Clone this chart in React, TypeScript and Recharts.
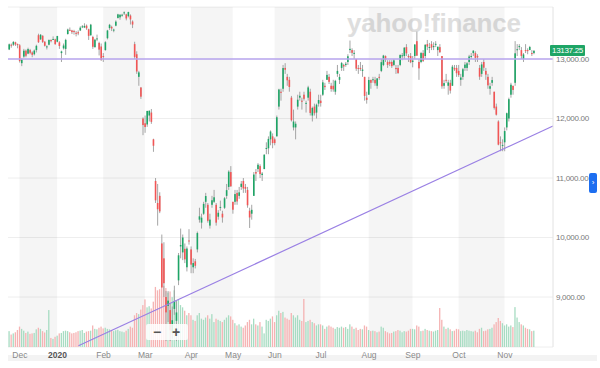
import { ComposedChart, Bar, XAxis, YAxis, CartesianGrid, ReferenceArea, ReferenceLine } from 'recharts'

type Ohlc = [number, number, number, number]

// daily candles, [open, high, low, close], one array per month
const nov19: Ohlc[] = [
  [13160, 13260, 13150, 13247], [13240, 13260, 13190, 13236], [13240, 13300, 13220, 13287], [13280, 13290, 13220, 13245],
  [13250, 13260, 13180, 13236],
]
const dec19: Ohlc[] = [
  [13230, 13250, 12940, 12965], [12930, 13010, 12880, 12989], [13040, 13170, 13020, 13140], [13140, 13160, 13030, 13055],
  [13090, 13190, 13080, 13167], [13150, 13170, 13080, 13105], [13110, 13130, 13030, 13071], [13080, 13160, 13060, 13142],
  [13150, 13240, 13110, 13221], [13400, 13425, 13270, 13282], [13330, 13420, 13320, 13407], [13390, 13400, 13270, 13287],
  [13290, 13300, 13210, 13222], [13200, 13230, 13160, 13212], [13240, 13330, 13230, 13319], [13320, 13330, 13280, 13300],
  [13330, 13380, 13320, 13337], [13330, 13340, 13240, 13249],
]
const jan20: Ohlc[] = [
  [13290, 13390, 13280, 13386], [13280, 13300, 13170, 13219], [13100, 13140, 12950, 13127], [13180, 13260, 13160, 13227],
  [13170, 13340, 13070, 13321], [13420, 13510, 13410, 13495], [13490, 13530, 13470, 13483], [13480, 13490, 13420, 13452],
  [13470, 13490, 13410, 13456], [13440, 13470, 13380, 13432], [13450, 13480, 13400, 13430], [13480, 13550, 13470, 13526],
  [13540, 13570, 13520, 13549], [13530, 13600, 13520, 13556], [13560, 13580, 13490, 13516], [13500, 13510, 13320, 13389],
  [13400, 13590, 13390, 13577], [13370, 13390, 13170, 13205], [13200, 13340, 13190, 13324], [13330, 13410, 13300, 13346],
  [13270, 13290, 13060, 13158], [13210, 13260, 12970, 12982],
]
const feb20: Ohlc[] = [
  [13050, 13100, 12950, 13045], [13150, 13300, 13140, 13282], [13350, 13490, 13330, 13479], [13520, 13590, 13490, 13575],
  [13540, 13560, 13470, 13514], [13480, 13510, 13450, 13494], [13560, 13650, 13550, 13628], [13690, 13760, 13680, 13750],
  [13700, 13750, 13660, 13745], [13740, 13760, 13710, 13744], [13780, 13800, 13740, 13784], [13750, 13760, 13650, 13681],
  [13720, 13795, 13700, 13789], [13730, 13750, 13580, 13665], [13630, 13650, 13520, 13579], [13250, 13290, 13000, 13035],
  [13080, 13130, 12750, 12790], [12700, 12800, 12550, 12775], [12520, 12530, 12330, 12367], [12000, 12020, 11720, 11890],
]
const mar20: Ohlc[] = [
  [11920, 12050, 11760, 11857], [11900, 12130, 11860, 12127], [12050, 12140, 11950, 12128], [12100, 12160, 11910, 11944],
  [11650, 11660, 11440, 11542], [10950, 11000, 10580, 10625], [10580, 10900, 10200, 10475], [10700, 10760, 10410, 10439],
  [9900, 10050, 9160, 9161], [9650, 9920, 9000, 9232], [9000, 9100, 8260, 8742], [8850, 9100, 8580, 8939],
  [8780, 8890, 8260, 8442], [8400, 8840, 8300, 8610], [8800, 9190, 8700, 8929], [8600, 8930, 8260, 8741],
  [9280, 9740, 9200, 9701], [9850, 10150, 9650, 9874], [9750, 10050, 9620, 10000], [9810, 9900, 9570, 9633],
  [9500, 9850, 9430, 9815], [9950, 10140, 9880, 9936],
]
const apr20: Ohlc[] = [
  [9800, 9850, 9400, 9544], [9500, 9650, 9400, 9571], [9600, 9640, 9480, 9525], [9800, 10100, 9750, 10075],
  [10300, 10500, 10250, 10356], [10250, 10400, 10150, 10333], [10400, 10600, 10380, 10565], [10600, 10750, 10500, 10697],
  [10550, 10580, 10250, 10280], [10200, 10400, 10150, 10301], [10550, 10700, 10500, 10626], [10600, 10800, 10580, 10676],
  [10550, 10580, 10200, 10250], [10350, 10460, 10300, 10416], [10500, 10620, 10450, 10514], [10400, 10450, 10250, 10337],
  [10500, 10680, 10480, 10659], [10700, 10900, 10650, 10796], [10850, 11130, 10800, 11107], [11100, 11200, 10850, 10862],
]
const may20: Ohlc[] = [
  [10600, 10600, 10400, 10467], [10600, 10800, 10550, 10730], [10750, 10800, 10550, 10606], [10700, 10850, 10650, 10759],
  [10850, 10950, 10800, 10904], [10950, 11000, 10750, 10824], [10850, 10900, 10750, 10819], [10800, 10850, 10500, 10542],
  [10450, 10500, 10160, 10337], [10400, 10550, 10300, 10465], [10700, 11100, 10700, 11058], [11100, 11150, 10950, 11075],
  [11150, 11250, 11100, 11223], [11200, 11230, 11000, 11066], [11050, 11100, 10950, 11074], [11150, 11400, 11150, 11391],
  [11500, 11600, 11400, 11505], [11500, 11700, 11400, 11657], [11650, 11800, 11550, 11781], [11700, 11750, 11500, 11587],
]
const jun20: Ohlc[] = [
  [11650, 11680, 11550, 11587], [11700, 12050, 11700, 12021], [12200, 12500, 12150, 12487], [12450, 12500, 12300, 12431],
  [12500, 12900, 12450, 12848], [12850, 12930, 12750, 12820], [12700, 12750, 12550, 12642], [12650, 12700, 12450, 12530],
  [12350, 12380, 11950, 11970], [11850, 12150, 11800, 11949], [11850, 11950, 11650, 11912], [12200, 12400, 12150, 12316],
  [12350, 12450, 12300, 12382], [12300, 12350, 12150, 12281], [12400, 12450, 12300, 12331], [12250, 12300, 12100, 12263],
  [12350, 12550, 12300, 12523], [12450, 12500, 12050, 12093], [12050, 12200, 11950, 12178], [12200, 12250, 12050, 12089],
  [12100, 12250, 12000, 12232], [12250, 12400, 12200, 12311],
]
const jul20: Ohlc[] = [
  [12300, 12400, 12200, 12260], [12400, 12650, 12380, 12608], [12550, 12600, 12480, 12528], [12650, 12800, 12650, 12733],
  [12700, 12750, 12580, 12616], [12550, 12600, 12450, 12495], [12550, 12650, 12450, 12489], [12450, 12650, 12400, 12633],
  [12750, 12900, 12700, 12800], [12650, 12750, 12580, 12697], [12850, 12950, 12800, 12931], [12900, 12920, 12800, 12875],
  [12900, 12950, 12870, 12920], [12950, 13080, 12900, 13046], [13150, 13310, 13100, 13171], [13150, 13180, 13050, 13104],
  [13100, 13150, 13000, 13103], [13000, 13000, 12800, 12838], [12850, 12900, 12750, 12839], [12850, 12950, 12800, 12836],
  [12800, 12900, 12700, 12822], [12700, 12700, 12300, 12380], [12350, 12450, 12250, 12313],
]
const aug20: Ohlc[] = [
  [12400, 12700, 12400, 12647], [12650, 12650, 12500, 12600], [12650, 12700, 12600, 12660], [12650, 12700, 12550, 12592],
  [12550, 12680, 12500, 12674], [12700, 12750, 12650, 12687], [12800, 13000, 12780, 12947], [12900, 13070, 12880, 13058],
  [13050, 13060, 12950, 12993], [12950, 12980, 12850, 12901], [12950, 12980, 12880, 12920], [12950, 12980, 12850, 12881],
  [12900, 13000, 12880, 12977], [12850, 12900, 12750, 12830], [12850, 12900, 12750, 12765], [12900, 13080, 12880, 13067],
  [13050, 13100, 12980, 13062], [13050, 13200, 13000, 13190], [13200, 13250, 13050, 13096], [13050, 13080, 12950, 13033],
  [13050, 13100, 12930, 12945],
]
const sep20: Ohlc[] = [
  [12950, 13050, 12860, 12974], [13050, 13250, 13000, 13243], [13300, 13460, 13050, 13057], [12950, 13000, 12650, 12843],
  [12950, 13120, 12930, 13100], [13100, 13150, 12950, 12968], [13050, 13250, 13000, 13238], [13250, 13320, 13150, 13209],
  [13200, 13270, 13100, 13202], [13250, 13300, 13150, 13193], [13200, 13280, 13150, 13218], [13250, 13300, 13200, 13255],
  [13150, 13200, 13050, 13208], [13200, 13250, 13100, 13116], [13050, 13050, 12500, 12542], [12550, 12650, 12500, 12595],
  [12650, 12750, 12600, 12643], [12550, 12650, 12400, 12607], [12600, 12650, 12420, 12469], [12550, 12900, 12550, 12871],
  [12850, 12900, 12800, 12826], [12850, 12900, 12700, 12761],
]
const oct20: Ohlc[] = [
  [12800, 12900, 12700, 12731], [12650, 12750, 12550, 12689], [12700, 12850, 12650, 12828], [12850, 12950, 12800, 12906],
  [12850, 12950, 12800, 12928], [12950, 13070, 12900, 13042], [13050, 13100, 13000, 13051], [13100, 13150, 13050, 13139],
  [13100, 13130, 12950, 13019], [13050, 13080, 12950, 13028], [12850, 12900, 12650, 12703], [12750, 12950, 12700, 12909],
  [12950, 13000, 12800, 12854], [12800, 12850, 12650, 12737], [12700, 12750, 12500, 12558], [12500, 12600, 12400, 12543],
  [12600, 12700, 12550, 12646], [12450, 12450, 12150, 12178], [12200, 12250, 12050, 12064], [11950, 11970, 11550, 11560],
  [11600, 11700, 11450, 11598], [11550, 11650, 11450, 11556],
]
const nov20: Ohlc[] = [
  [11600, 11850, 11450, 11789], [11850, 12100, 11800, 12089], [12000, 12350, 11950, 12325], [12400, 12600, 12350, 12568],
  [12550, 12550, 12400, 12480], [12600, 13300, 12550, 13096], [13150, 13250, 13050, 13164], [13200, 13250, 13150, 13217],
  [13150, 13200, 13000, 13052], [13000, 13100, 12950, 13077], [13150, 13250, 13100, 13139], [13150, 13180, 13080, 13133],
  [13150, 13220, 13150, 13202], [13100, 13150, 13050, 13087], [13100, 13150, 13080, 13137.25],
]

// volume, millions of shares
const volNov19 = [70, 55, 60, 65, 75]
const volDec19 = [90, 80, 72, 62, 68, 58, 60, 62, 78, 85, 80, 70, 64, 75, 163, 40, 36, 45]
const volJan20 = [50, 60, 62, 70, 72, 70, 65, 60, 62, 65, 70, 72, 75, 62, 68, 70, 72, 95, 80, 78, 85, 90]
const volFeb20 = [82, 85, 80, 78, 72, 70, 74, 76, 70, 68, 65, 72, 80, 90, 85, 140, 150, 145, 165, 185]
const volMar20 = [210, 175, 180, 170, 200, 265, 250, 255, 280, 270, 260, 240, 245, 220, 250, 205, 210, 185, 175, 160, 140, 150]
const volApr20 = [140, 120, 115, 140, 150, 125, 120, 130, 140, 125, 145, 110, 125, 120, 115, 110, 120, 130, 140, 135]
const volMay20 = [120, 105, 95, 100, 90, 85, 95, 110, 120, 100, 125, 100, 95, 110, 90, 60, 120, 115, 125, 135]
const volJun20 = [110, 140, 160, 150, 155, 130, 125, 120, 150, 140, 130, 140, 120, 115, 212, 110, 115, 120, 110, 105, 95, 100]
const volJul20 = [100, 95, 80, 90, 95, 90, 85, 80, 88, 85, 90, 85, 88, 80, 100, 90, 80, 85, 75, 80, 78, 95, 90]
const volAug20 = [75, 70, 72, 70, 65, 68, 90, 85, 70, 65, 60, 62, 68, 70, 75, 72, 65, 70, 68, 72, 80]
const volSep20 = [80, 78, 95, 90, 70, 72, 80, 75, 72, 70, 68, 72, 75, 172, 120, 90, 80, 85, 78, 70, 72, 80]
const volOct20 = [78, 70, 72, 70, 75, 72, 70, 68, 72, 65, 80, 85, 70, 72, 78, 80, 85, 100, 110, 128, 115, 105]
const volNov20 = [95, 100, 90, 95, 88, 176, 130, 110, 100, 95, 85, 80, 78, 70, 72]

const monthLabels = ['', 'Dec', '2020', 'Feb', 'Mar', 'Apr', 'May', 'Jun', 'Jul', 'Aug', 'Sep', 'Oct', 'Nov']
const shadedMonths = ['Dec', 'Feb', 'Apr', 'Jun', 'Aug', 'Oct']
const priceTicks = [9000, 10000, 11000, 12000, 13000]
const levelLine = 13000
const trendStart = { slot: 33, value: 8180 }
const trendEnd = { slot: 260, value: 11874 }

const candleMonths = [nov19, dec19, jan20, feb20, mar20, apr20, may20, jun20, jul20, aug20, sep20, oct20, nov20]
const volumeMonths = [volNov19, volDec19, volJan20, volFeb20, volMar20, volApr20, volMay20, volJun20, volJul20, volAug20, volSep20, volOct20, volNov20]

const rows: { i: number; o: number; h: number; l: number; c: number; v: number; range: [number, number] }[] = []
const monthStarts: number[] = []
candleMonths.forEach((month, m) => {
  monthStarts.push(rows.length)
  month.forEach(([o, h, l, c], d) => {
    rows.push({ i: rows.length, o, h, l, c, v: volumeMonths[m][d], range: [l, h] })
  })
})
monthStarts.push(rows.length)

const lastClose = rows[rows.length - 1].c
const xDomain = [-0.7, 260]
const tickSlots = monthStarts.slice(1, monthLabels.length)
const labelFor = (slot: number) => monthLabels[monthStarts.indexOf(slot)]

const up = '#1ea566'
const down = '#f25555'

function Candle(props: any) {
  const { x, y, width, height, payload } = props
  if (!payload) return null
  const top = Math.min(y, y + height)
  const span = Math.abs(height)
  const k = payload.h > payload.l ? span / (payload.h - payload.l) : 0
  const oy = top + (payload.h - payload.o) * k
  const cy = top + (payload.h - payload.c) * k
  const cx = x + width / 2
  return (
    <g>
      <line x1={cx} x2={cx} y1={top} y2={top + span} stroke="#9b9b9b" strokeWidth={0.9} />
      <rect
        x={x}
        y={Math.min(oy, cy)}
        width={width}
        height={Math.max(1, Math.abs(cy - oy))}
        fill={payload.c >= payload.o ? up : down}
      />
    </g>
  )
}

function VolumeBar(props: any) {
  const { x, y, width, height, payload } = props
  if (!payload) return null
  return <rect x={x} y={y} width={width} height={height} fill={payload.c >= payload.o ? '#a7dcc2' : '#f5b3b3'} />
}

function MonthTick(props: any) {
  const { x, y, payload } = props
  const label = labelFor(payload.value)
  const year = label === '2020'
  return (
    <text x={x} y={y} dy={9} textAnchor="middle" fontSize={8.5} fill={year ? '#555' : '#8a8a8a'} fontWeight={year ? 700 : 400}>
      {label}
    </text>
  )
}

export default function App() {
  return (
    <div style={{ position: 'absolute', left: 0, top: 0, width: 600, height: 368, background: '#fff', fontFamily: '"Liberation Sans", Arial, sans-serif' }}>
      <div style={{ position: 'absolute', left: 347, top: 8, fontSize: 26, fontWeight: 700, color: '#dedede', letterSpacing: -0.2 }}>
        yahoo!finance
      </div>
      <div style={{ position: 'absolute', left: 8, top: 355, width: 589, height: 6, background: '#f3f3f3' }} />
      <div style={{ position: 'absolute', left: 0, top: 0 }}>
        <ComposedChart width={600} height={368} data={rows} margin={{ top: 7, right: 0, bottom: 0, left: 8 }}>
          <XAxis
            dataKey="i"
            type="number"
            domain={xDomain}
            allowDataOverflow
            ticks={tickSlots}
            interval={0}
            tick={<MonthTick />}
            tickLine={false}
            axisLine={false}
            tickSize={0}
            height={21}
          />
          <XAxis xAxisId="vol" dataKey="i" type="number" domain={xDomain} allowDataOverflow hide />
          <YAxis
            yAxisId="price"
            orientation="right"
            domain={[8160, 13874]}
            allowDataOverflow
            ticks={priceTicks}
            tickFormatter={(v: number) => v.toLocaleString('en-US', { minimumFractionDigits: 2 })}
            tick={{ fontSize: 8, fill: '#7a7a7a', letterSpacing: -0.3 }}
            tickLine={false}
            tickSize={0}
            tickMargin={3}
            axisLine={{ stroke: '#e2e2e2' }}
            width={47}
          />
          <YAxis yAxisId="vol" domain={[0, 1500]} hide />
          {shadedMonths.map((name) => {
            const m = monthLabels.indexOf(name)
            return (
              <ReferenceArea
                key={name}
                yAxisId="price"
                x1={monthStarts[m] - 0.2}
                x2={monthStarts[m + 1] - 0.2}
                fill="#000"
                fillOpacity={0.04}
                stroke="none"
              />
            )
          })}
          <CartesianGrid yAxisId="price" vertical={false} stroke="#eeeeee" />
          <Bar xAxisId="vol" yAxisId="vol" dataKey="v" barSize={1.3} shape={<VolumeBar />} isAnimationActive={false} />
          <ReferenceLine
            yAxisId="price"
            segment={[
              { x: trendStart.slot, y: trendStart.value },
              { x: trendEnd.slot, y: trendEnd.value },
            ]}
            stroke="#9a80e4"
            strokeWidth={1.2}
          />
          <ReferenceLine yAxisId="price" y={levelLine} stroke="#b9a6ef" strokeWidth={1.5} />
          <Bar yAxisId="price" dataKey="range" barSize={1.6} shape={<Candle />} isAnimationActive={false} />
        </ComposedChart>
      </div>
      <div style={{ position: 'absolute', left: 550, top: 45, width: 35, height: 11, background: up, color: '#fff', fontSize: 8, letterSpacing: -0.3, lineHeight: '11px', textAlign: 'center', borderRadius: 1, whiteSpace: 'nowrap' }}>
        {lastClose.toFixed(2)}
      </div>
      <div style={{ position: 'absolute', left: 146, top: 324, width: 42, height: 16, background: 'rgba(255,255,255,0.85)', borderRadius: 2, color: '#555', fontSize: 14, fontWeight: 700, lineHeight: '16px' }}>
        <span style={{ position: 'absolute', left: 7 }}>−</span>
        <span style={{ position: 'absolute', left: 26 }}>+</span>
      </div>
      <div style={{ position: 'absolute', left: 589, top: 173, width: 8, height: 20, background: '#1d6ef0', borderRadius: 2, color: '#fff', fontSize: 8, lineHeight: '20px', textAlign: 'center' }}>
        ›
      </div>
    </div>
  )
}
